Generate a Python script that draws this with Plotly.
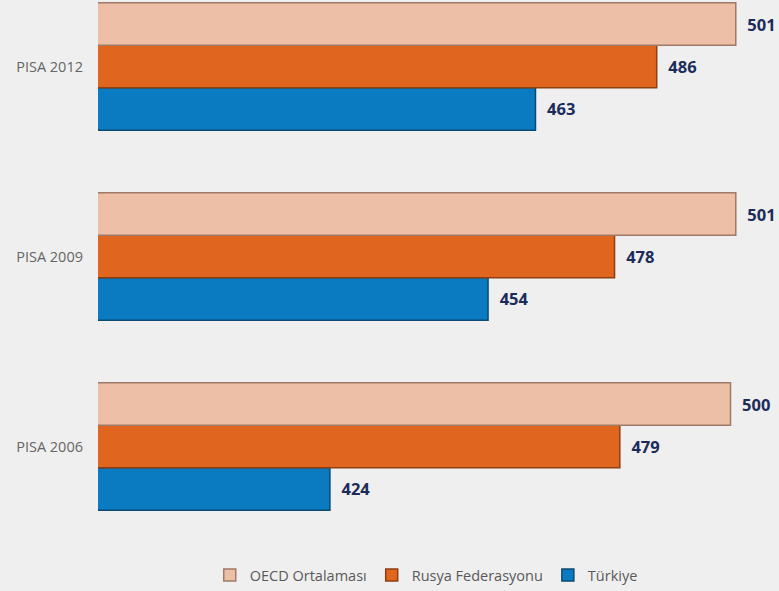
import plotly.graph_objects as go

categories = ["PISA 2006", "PISA 2009", "PISA 2012"]
series_names = ["OECD Ortalaması", "Rusya Federasyonu", "Türkiye"]
oecd = [500, 501, 501]
rusya = [479, 478, 486]
turkiye = [424, 454, 463]

fills = {"OECD Ortalaması": "#ecbfa6", "Rusya Federasyonu": "#e0651e", "Türkiye": "#0a7bc0"}
edges = {"OECD Ortalaması": "#a07a68", "Rusya Federasyonu": "#8f3e12", "Türkiye": "#0b4a73"}

fig = go.Figure()
# add bottom-to-top so OECD appears on top within each group
for name, vals in [("Türkiye", turkiye), ("Rusya Federasyonu", rusya), ("OECD Ortalaması", oecd)]:
    fig.add_trace(go.Bar(
        name=name, y=categories, x=vals, orientation="h",
        marker=dict(color=fills[name], line=dict(color=edges[name], width=1.5)),
        text=[f"  {v}" for v in vals], textposition="outside",
        textfont=dict(family="Open Sans", size=16.5, color="#1c2b5a", weight="bold"),
        cliponaxis=False,
    ))

fig.update_layout(
    width=779, height=591,
    barmode="group", bargap=0.33, bargroupgap=0,
    paper_bgcolor="#efefef", plot_bgcolor="#efefef",
    margin=dict(l=98, r=0, t=0, b=51, autoexpand=False),
    font=dict(family="Open Sans", size=14, color="#666666"),
    xaxis=dict(range=[380, 509.2], visible=False, showgrid=False, zeroline=False),
    yaxis=dict(type="category", categoryorder="array", categoryarray=categories,
               range=[-0.492, 2.35], showgrid=False, zeroline=False, showline=False,
               ticks="", ticklabelstandoff=14, tickfont=dict(size=14.5, color="#666666")),
    legend=dict(orientation="h", x=0.482, xanchor="center", yref="container",
                y=0.0, yanchor="bottom",
                traceorder="reversed", font=dict(size=14.5, color="#595959"),
                bgcolor="rgba(0,0,0,0)"),
    showlegend=True,
)

fig.write_html("out.html", config={"displayModeBar": False},
               post_script="document.body.style.margin='0px';document.body.style.background='#efefef';")
